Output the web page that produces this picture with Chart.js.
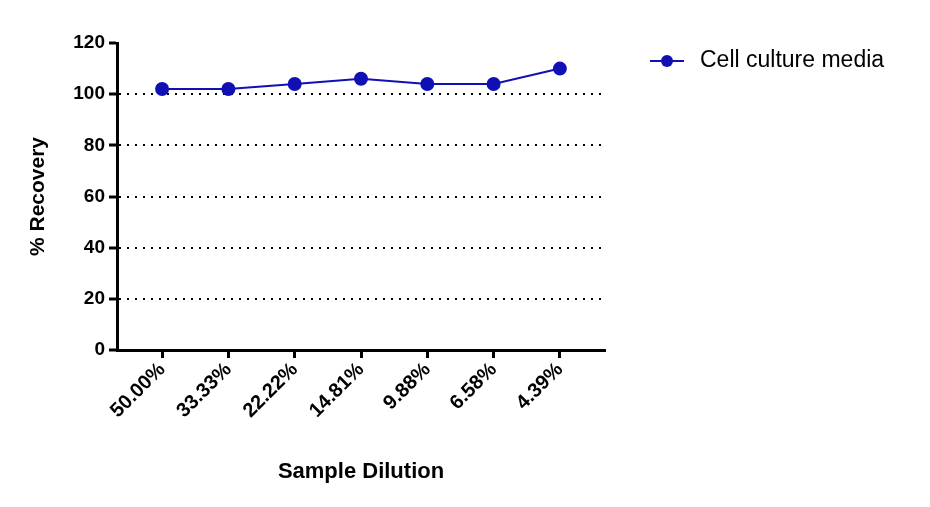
<!DOCTYPE html>
<html><head><meta charset="utf-8">
<script src="https://cdn.jsdelivr.net/npm/chart.js@4"></script>
<style>body{margin:0;background:#fff}#wrap{width:930px;height:507px}</style>
</head><body><div id="wrap"><canvas id="c"></canvas></div>
<script>
const categories = ['50.00%', '33.33%', '22.22%', '14.81%', '9.88%', '6.58%', '4.39%'];
const recovery = [102, 102, 104, 106, 104, 104, 110];
const yTicks = [0, 20, 40, 60, 80, 100, 120];
const seriesName = 'Cell culture media';
const blue = '#1010b4';
const font = 'Liberation Sans, Arial, sans-serif';

// legend drawn to the right, like the original figure
const sideLegend = {
    id: 'sideLegend',
    afterDraw(chart) {
        const ctx = chart.ctx;
        ctx.save();
        ctx.strokeStyle = blue; ctx.fillStyle = blue; ctx.lineWidth = 2;
        ctx.beginPath(); ctx.moveTo(650, 61); ctx.lineTo(684, 61); ctx.stroke();
        ctx.beginPath(); ctx.arc(667, 61, 6, 0, Math.PI * 2); ctx.fill();
        ctx.fillStyle = '#000'; ctx.font = '23px ' + font; ctx.textBaseline = 'middle';
        ctx.fillText(seriesName, 700, 61);
        ctx.restore();
    }
};

new Chart(document.getElementById('c'), {
    type: 'line',
    data: {
        datasets: [{
            data: recovery.map((v, i) => ({ x: i, y: v })),
            borderColor: blue, backgroundColor: blue, borderWidth: 2,
            pointRadius: 6, pointHoverRadius: 6
        }]
    },
    options: {
        responsive: true, maintainAspectRatio: false, animation: false,
        layout: { padding: { left: 22, top: 43, right: 325, bottom: 18 } },
        plugins: { legend: { display: false }, tooltip: { enabled: false } },
        scales: {
            x: {
                type: 'linear', min: -0.68, max: 6.68,
                afterFit(s) { s.height = 139; },
                afterBuildTicks(s) { s.ticks = categories.map((_, i) => ({ value: i })); },
                ticks: {
                    callback: v => categories[v], maxRotation: 45, minRotation: 45,
                    color: '#000', font: { family: font, size: 20, weight: 'bold' }, padding: 0
                },
                grid: { drawOnChartArea: false, tickColor: '#000', tickWidth: 3, tickLength: 8 },
                border: { color: '#000', width: 3 },
                title: { display: true, text: 'Sample Dilution', color: '#000',
                    font: { family: font, size: 22, weight: 'bold' }, padding: { top: 0 } }
            },
            y: {
                min: 0, max: 120,
                afterFit(s) { s.width = 95; },
                afterBuildTicks(s) { s.ticks = yTicks.map(v => ({ value: v })); },
                ticks: { color: '#000', font: { family: font, size: 19, weight: 'bold' }, padding: 4 },
                grid: {
                    color: c => (c.tick && c.tick.value > 0 && c.tick.value < 120) ? '#000' : 'rgba(0,0,0,0)',
                    lineWidth: 2,
                    tickColor: '#000', tickWidth: 3, tickLength: 8, tickBorderDash: []
                },
                border: { color: '#000', width: 3, dash: [2, 6] },
                title: { display: true, text: '% Recovery', color: '#000',
                    font: { family: font, size: 21, weight: 'bold' }, padding: { bottom: 0 } }
            }
        }
    },
    plugins: [sideLegend]
});
</script></body></html>
